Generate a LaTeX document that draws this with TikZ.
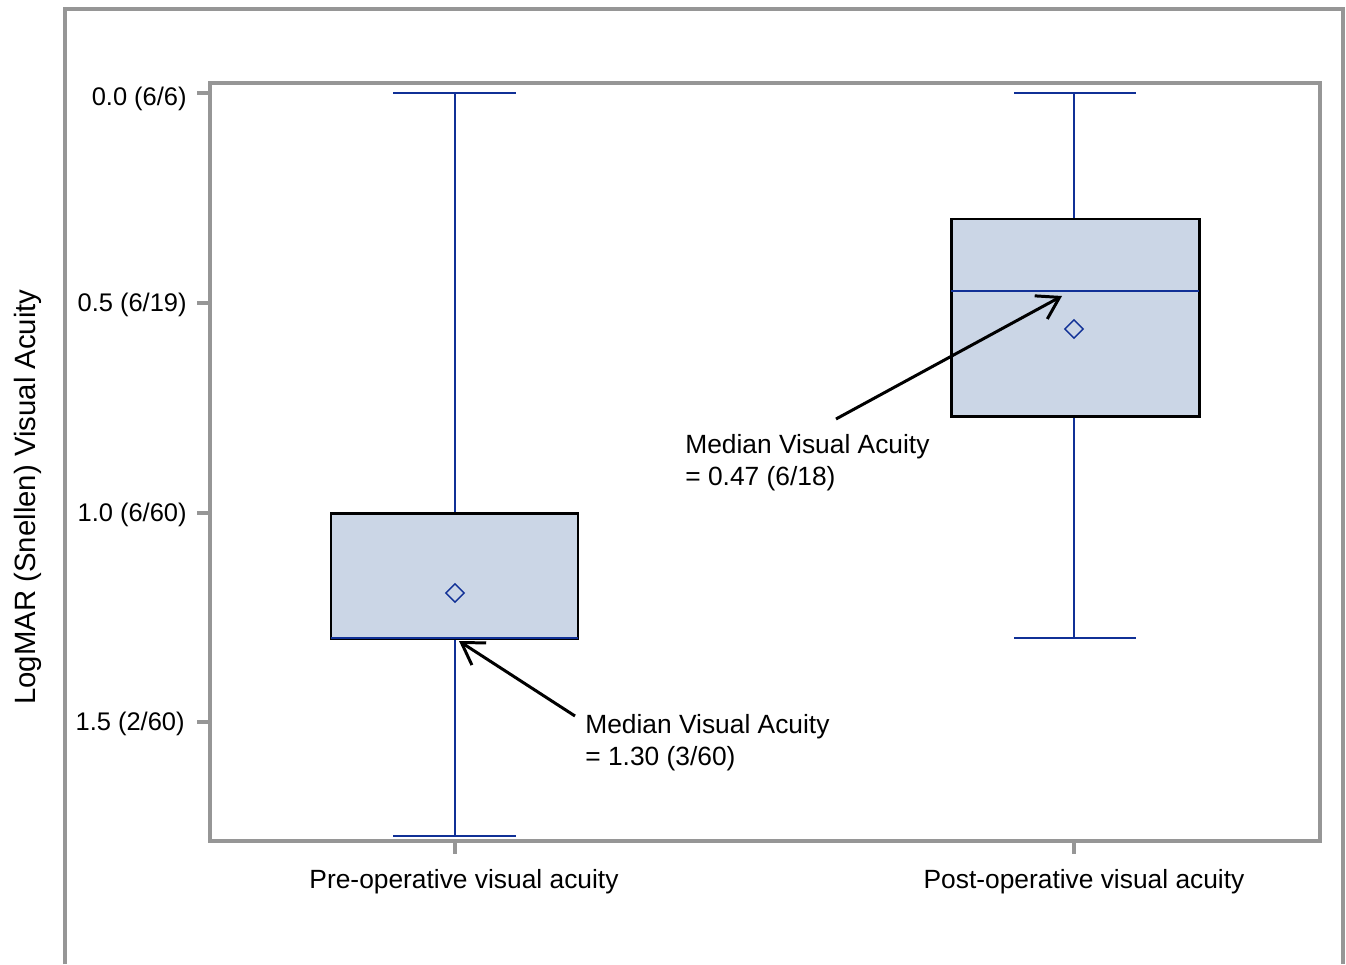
\documentclass[tikz,border=0pt]{standalone}
\usepackage{fontspec}
\setmainfont{Liberation Sans}
\usetikzlibrary{arrows.meta,shapes.geometric}
\definecolor{boxfill}{RGB}{203,214,230}
\definecolor{whisk}{RGB}{16,48,150}
\definecolor{framegray}{RGB}{150,150,150}

\begin{document}
\begin{tikzpicture}[x=0.02cm,y=-0.02cm,
    frameline/.style={draw=framegray,line width=1.8pt},
    whisker/.style={draw=whisk,line width=1.5pt},
    iqrbox/.style={draw=black,fill=boxfill,line width=1.7pt},
    meanmark/.style={diamond,draw=whisk,line width=0.8pt,minimum size=0.38cm,inner sep=0pt},
    ticklabel/.style={anchor=east,inner sep=0pt,font=\fontsize{14.5}{17}\selectfont},
    catlabel/.style={anchor=base,inner sep=0pt,font=\fontsize{15}{18}\selectfont},
    annot/.style={align=left,anchor=north west,inner sep=0pt,font=\fontsize{15}{18.1}\selectfont},
    pointer/.style={-{Straight Barb[length=12pt,width=15pt]},line width=1.7pt}]

    \useasboundingbox (0,0) rectangle (1346,964);

    % outer frame and plot area
    \draw[frameline] (65,964) -- (65,9) -- (1343,9) -- (1343,964);
    \draw[frameline] (210,83) rectangle (1320,841);

    % y axis ticks
    \coordinate (T0) at (210,93);
    \coordinate (T1) at (210,303);
    \coordinate (T2) at (210,513);
    \coordinate (T3) at (210,722);
    \draw[frameline] (T0) -- +(-13,0);
    \draw[frameline] (T1) -- +(-13,0);
    \draw[frameline] (T2) -- +(-13,0);
    \draw[frameline] (T3) -- +(-13,0);
    \node[ticklabel] (L0) at (187,99) {0.0 (6/6)};
    \node[ticklabel] (L1) at (187,305) {0.5 (6/19)};
    \node[ticklabel] (L2) at (187,515) {1.0 (6/60)};
    \node[ticklabel] (L3) at (185,724) {1.5 (2/60)};
    \node[rotate=90,inner sep=0pt,font=\fontsize{16.7}{20}\selectfont] (ylab) at (28,497) {LogMAR (Snellen) Visual Acuity};

    % x axis ticks
    \coordinate (XA) at (455,841);
    \coordinate (XB) at (1074,841);
    \draw[frameline] (XA) -- +(0,13);
    \draw[frameline] (XB) -- +(0,13);
    \node[catlabel] (preLab) at (464,888) {Pre-operative visual acuity};
    \node[catlabel] (postLab) at (1084,888) {Post-operative visual acuity};

    % pre-operative box
    \coordinate (preTop) at (455,93);
    \coordinate (preQ1) at (455,513);
    \coordinate (preQ3) at (455,638);
    \coordinate (preBot) at (455,836);
    \draw[whisker] (preTop) -- (preQ1);
    \draw[whisker] (preQ3) -- (preBot);
    \draw[whisker] (393,93) -- (516,93);
    \draw[whisker] (393,836) -- (516,836);
    \draw[iqrbox] (331,513) rectangle (578,638);
    \draw[whisker] (331,638) -- (578,638);
    \node[meanmark] (preMean) at (455,593) {};

    % post-operative box
    \coordinate (postTop) at (1074,93);
    \coordinate (postQ1) at (1074,219);
    \coordinate (postQ3) at (1074,416);
    \coordinate (postBot) at (1074,638);
    \draw[whisker] (postTop) -- (postQ1);
    \draw[whisker] (postQ3) -- (postBot);
    \draw[whisker] (1014,93) -- (1136,93);
    \draw[whisker] (1014,638) -- (1136,638);
    \draw[iqrbox] (951,219) rectangle (1199,416);
    \draw[whisker] (951,291) -- (1199,291);
    \node[meanmark] (postMean) at (1074,329) {};

    % annotations
    \node[annot] (preNote) at (585,714) {Median Visual Acuity\\= 1.30 (3/60)};
    \node[annot] (postNote) at (685,434) {Median Visual Acuity\\= 0.47 (6/18)};
    \coordinate (preTail) at (575,716);
    \coordinate (preTip) at (459,641);
    \coordinate (postTail) at (836,419);
    \coordinate (postTip) at (1062,296);
    \draw[pointer] (preTail) -- (preTip);
    \draw[pointer] (postTail) -- (postTip);

\end{tikzpicture}
\end{document}
